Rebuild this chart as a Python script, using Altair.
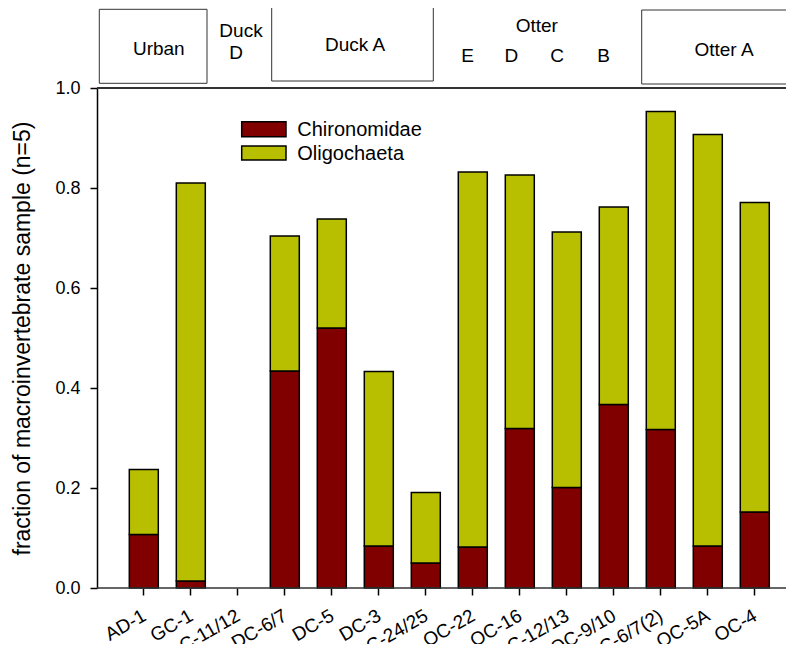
import altair as alt
import pandas as pd

sites = ["AD-1", "GC-1", "DC-11/12", "DC-6/7", "DC-5", "DC-3", "OC-24/25",
         "OC-22", "OC-16", "OC-12/13", "OC-9/10", "OC-6/7(2)", "OC-5A", "OC-4"]
chironomidae = [0.107, 0.014, 0.0, 0.434, 0.520, 0.084, 0.050,
                0.082, 0.319, 0.201, 0.367, 0.317, 0.084, 0.152]
oligochaeta = [0.130, 0.796, 0.0, 0.270, 0.218, 0.349, 0.141,
               0.750, 0.507, 0.511, 0.395, 0.636, 0.823, 0.619]
taxa = ["Chironomidae", "Oligochaeta"]
colors = ["#800000", "#b8bf00"]
y_ticks = [0.0, 0.2, 0.4, 0.6, 0.8, 1.0]

FONT = "Liberation Sans"
W, H = 689, 500

df = pd.DataFrame({
    "site": sites * 2,
    "taxon": [taxa[0]] * len(sites) + [taxa[1]] * len(sites),
    "value": chironomidae + oligochaeta,
    "stack_order": [0] * len(sites) + [1] * len(sites),
})
dummy = pd.DataFrame({"d": [0]})

bars = alt.Chart(df).mark_bar(stroke="black", strokeWidth=1.5).encode(
    x=alt.X("site:N", sort=sites,
            scale=alt.Scale(domain=sites, paddingInner=0.383, paddingOuter=0.5215, align=0.659),
            axis=alt.Axis(title=None, labelAngle=-30, labelAlign="right",
                          labelBaseline="top", labelFontSize=19, labelPadding=11,
                          labelOffset=-4,
                          tickSize=7, tickColor="black", tickWidth=1.5,
                          domain=False, labelFont=FONT, labelColor="black")),
    y=alt.Y("value:Q", stack="zero",
            scale=alt.Scale(domain=[0, 1], nice=False),
            axis=alt.Axis(values=y_ticks, format=".1f",
                          title="fraction of macroinvertebrate sample (n=5)",
                          titleFontSize=23, titleFontWeight="normal", titleFont=FONT,
                          titleColor="black", titlePadding=20,
                          labelFontSize=18, labelFont=FONT, labelColor="black",
                          labelPadding=10, tickSize=7, tickColor="black",
                          tickWidth=1.5, domainColor="black", domainWidth=1.5,
                          grid=False)),
    color=alt.Color("taxon:N", scale=alt.Scale(domain=taxa, range=colors), legend=None),
    order=alt.Order("stack_order:Q"),
).transform_filter("datum.value > 0")

top_rule = alt.Chart(dummy).mark_rule(color="#333", strokeWidth=2).encode(
    x=alt.value(0), x2=alt.value(700), y=alt.datum(1.0))
bottom_rule = alt.Chart(dummy).mark_rule(color="#333", strokeWidth=1.5).encode(
    x=alt.value(0), x2=alt.value(700), y=alt.datum(0.0))


def box(x1, x2, y1, y2):
    return alt.Chart(dummy).mark_rect(fill="white", stroke="#333", strokeWidth=1).encode(
        x=alt.value(x1), x2=alt.value(x2), y=alt.value(y1), y2=alt.value(y2))


def label(txt, x, y, size=19, align="center"):
    return alt.Chart(dummy).mark_text(fontSize=size, font=FONT, color="black",
                                      align=align, baseline="alphabetic").encode(
        x=alt.value(x), y=alt.value(y), text=alt.value(txt))


def swatch(x1, x2, y1, y2, col):
    return alt.Chart(dummy).mark_rect(fill=col, stroke="black", strokeWidth=1.5).encode(
        x=alt.value(x1), x2=alt.value(x2), y=alt.value(y1), y2=alt.value(y2))


annotations = [
    box(2.3, 110, -78.7, -4.7), label("Urban", 61.8, -33),
    label("Duck", 144, -51.3), label("D", 139, -28.7),
    box(174.7, 336.3, -81.3, -7), label("Duck A", 258, -37),
    label("Otter", 439.8, -55.7),
    label("E", 370.5, -25.7), label("D", 414.3, -25.7),
    label("C", 460, -25.7), label("B", 506.5, -25.7),
    box(544.7, 710, -78, -4), label("Otter A", 627, -32),
    swatch(144.7, 189, 33.7, 48.7, colors[0]), label(taxa[0], 200.3, 48, 20, "left"),
    swatch(144.7, 189, 58, 72, colors[1]), label(taxa[1], 200.3, 71.5, 20, "left"),
]

chart = alt.layer(bars, bottom_rule, top_rule, *annotations).properties(
    width=W, height=H,
    padding={"left": 89, "top": 80, "right": 0, "bottom": 56},
    autosize=alt.AutoSizeParams(type="none"),
).configure_view(stroke=None)

chart.save("out.html", embed_options={"renderer": "svg", "actions": False})
